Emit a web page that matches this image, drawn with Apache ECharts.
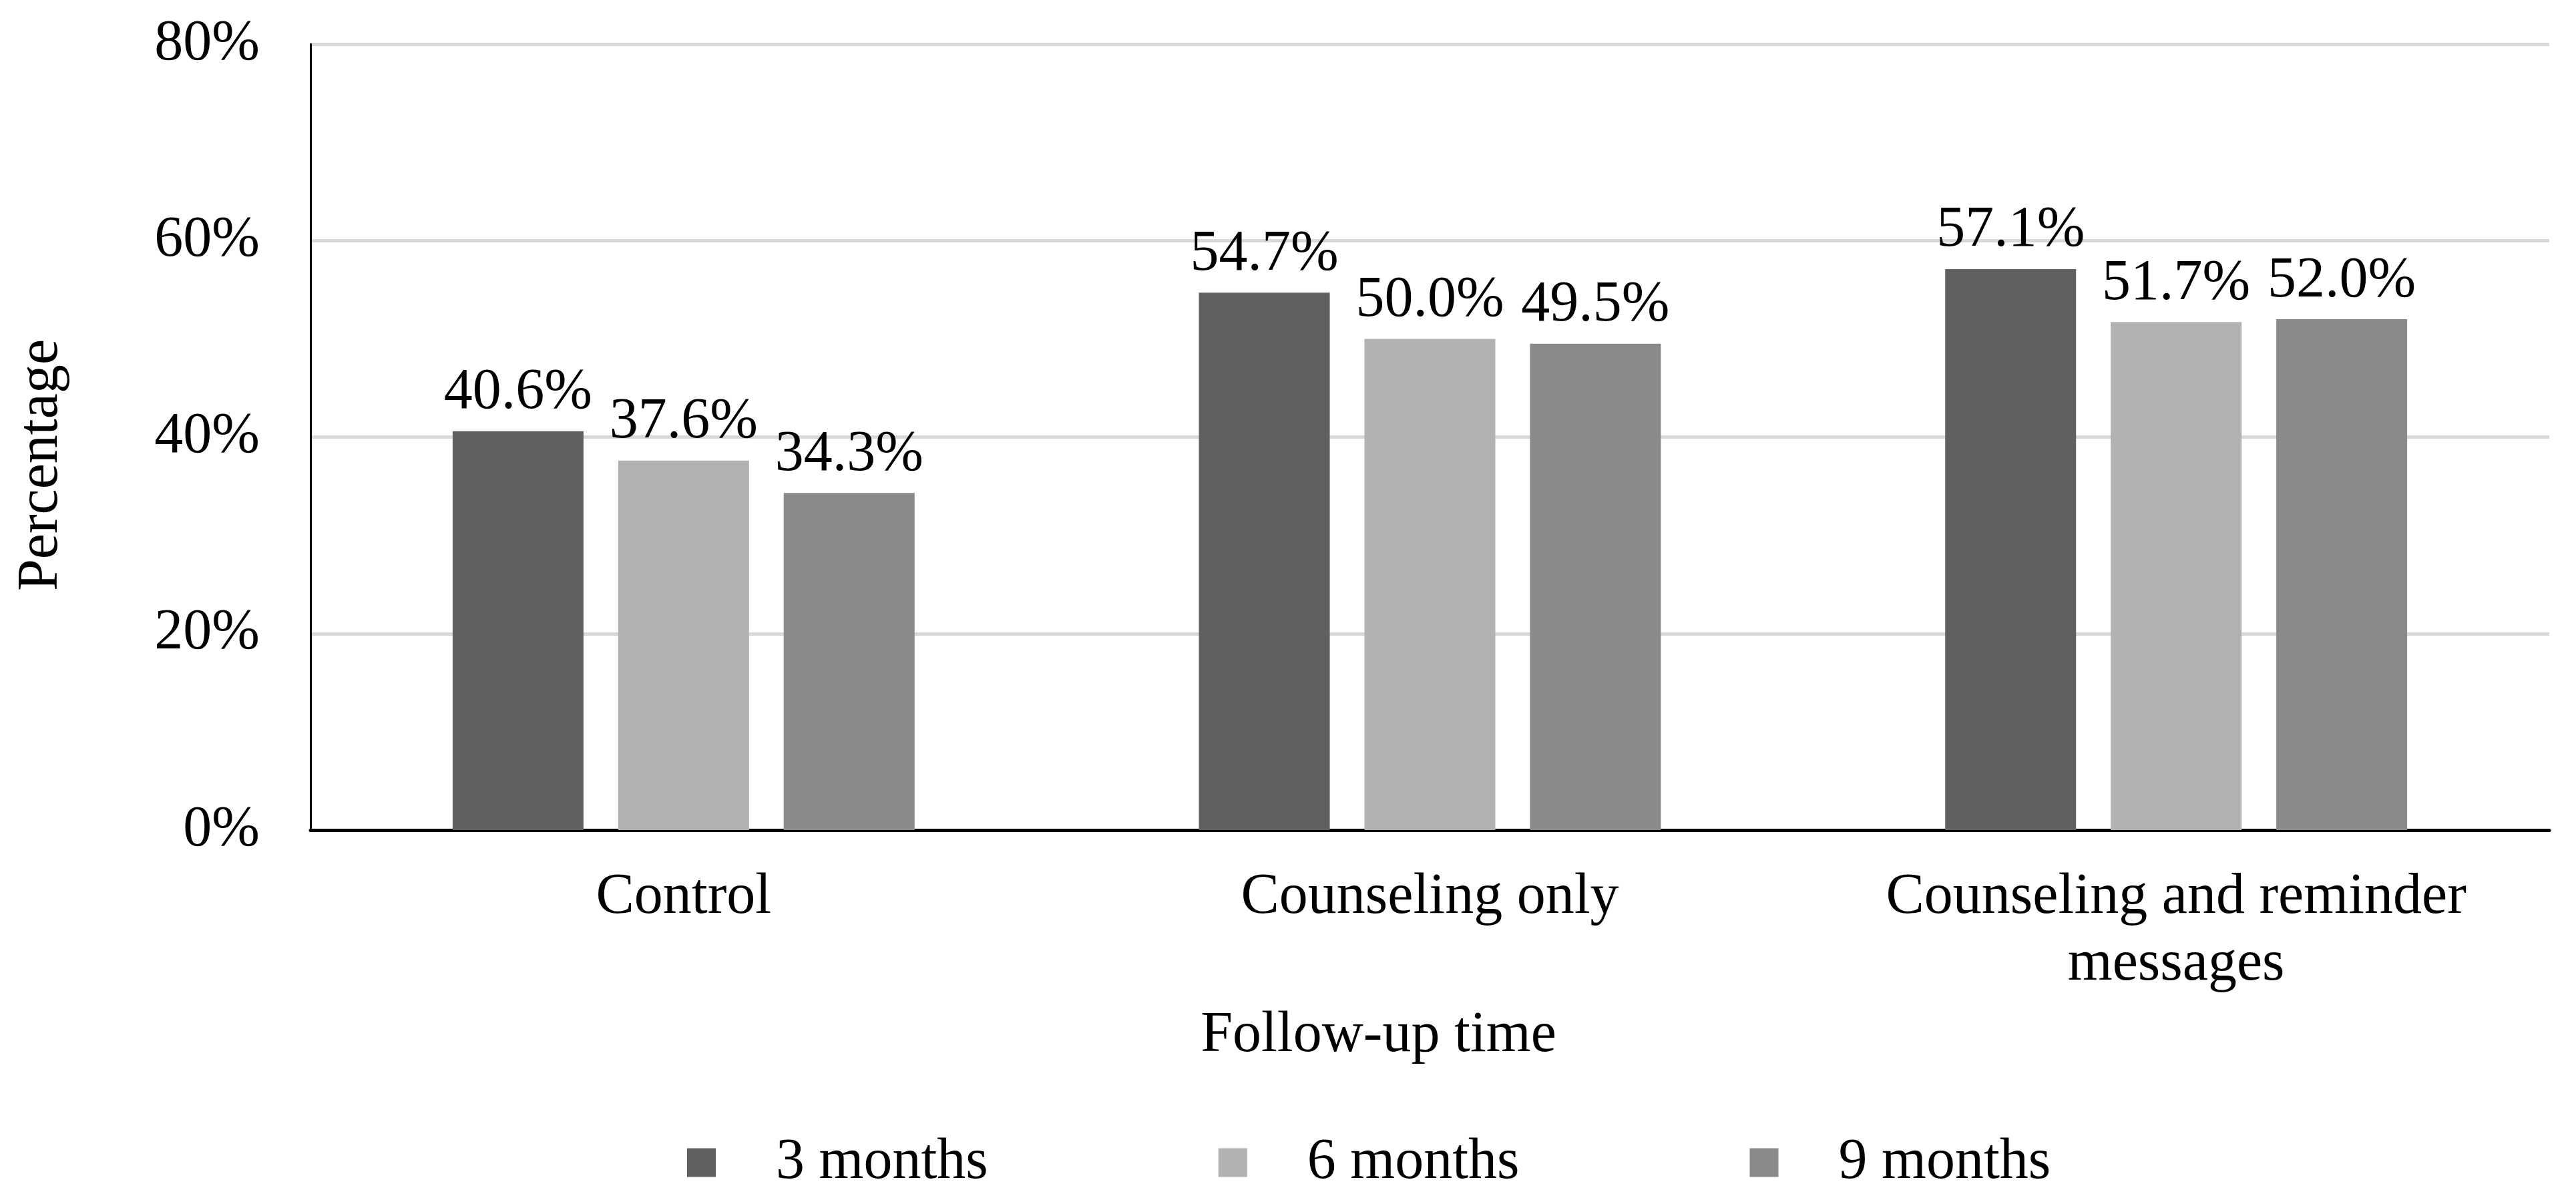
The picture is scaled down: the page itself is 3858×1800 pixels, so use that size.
<!DOCTYPE html>
<html>
<head>
<meta charset="utf-8">
<script src="https://cdn.jsdelivr.net/npm/echarts@6/dist/echarts.min.js"></script>
<style>
html,body{margin:0;padding:0;background:#fff;}
#chart{width:3858px;height:1800px;}
</style>
</head>
<body>
<div id="chart"></div>
<script>
const categories = ['Control', 'Counseling only', 'Counseling and reminder\nmessages'];
const seriesNames = ['3 months', '6 months', '9 months'];
const months3 = [40.6, 54.7, 57.1];
const months6 = [37.6, 50.0, 51.7];
const months9 = [34.3, 49.5, 52.0];
const yTicks = [0, 20, 40, 60, 80];
const colors = ['#606060', '#b2b2b2', '#8a8a8a'];

const FONT = "'Liberation Serif', 'Times New Roman', serif";
const chart = echarts.init(document.getElementById('chart'));

function barSeries(name, data, color) {
  return {
    name: name,
    type: 'bar',
    data: data,
    barWidth: 196,
    barGap: '26.5%',
    itemStyle: { color: color },
    label: {
      show: true,
      position: 'top',
      distance: 14,
      fontFamily: FONT,
      fontSize: 86,
      color: '#000',
      formatter: p => p.value.toFixed(1) + '%'
    }
  };
}

chart.setOption({
  animation: false,
  backgroundColor: '#fff',
  textStyle: { fontFamily: FONT },
  grid: { left: 465, right: 40, top: 66, bottom: 557, containLabel: false },
  legend: {
    data: seriesNames,
    left: 1024,
    top: 1693,
    itemWidth: 43,
    itemHeight: 43,
    itemGap: 345,
    icon: 'rect',
    textStyle: { fontFamily: FONT, fontSize: 86, color: '#000', padding: [0, 0, 0, 85] }
  },
  xAxis: {
    type: 'category',
    data: categories,
    name: 'Follow-up time',
    nameLocation: 'middle',
    nameGap: 265,
    nameTextStyle: { fontFamily: FONT, fontSize: 86, color: '#000', padding: [0, 154, 0, 0] },
    axisLine: { lineStyle: { color: '#000', width: 5 } },
    axisTick: { show: false },
    axisLabel: { fontFamily: FONT, fontSize: 86, color: '#000', margin: 51, lineHeight: 100, interval: 0 }
  },
  yAxis: {
    type: 'value',
    min: yTicks[0],
    max: yTicks[yTicks.length - 1],
    interval: 20,
    name: 'Percentage',
    nameLocation: 'middle',
    nameGap: 360,
    nameRotate: 90,
    nameTextStyle: { fontFamily: FONT, fontSize: 86, color: '#000', padding: [0, 84, 0, 0] },
    axisLine: { show: true, lineStyle: { color: '#000', width: 3 } },
    axisTick: { show: false },
    axisLabel: { fontFamily: FONT, fontSize: 86, color: '#000', margin: 76, formatter: '{value}%' },
    splitLine: { lineStyle: { color: '#d9d9d9', width: 5 } }
  },
  series: [
    barSeries(seriesNames[0], months3, colors[0]),
    barSeries(seriesNames[1], months6, colors[1]),
    barSeries(seriesNames[2], months9, colors[2])
  ]
});
</script>
</body>
</html>
